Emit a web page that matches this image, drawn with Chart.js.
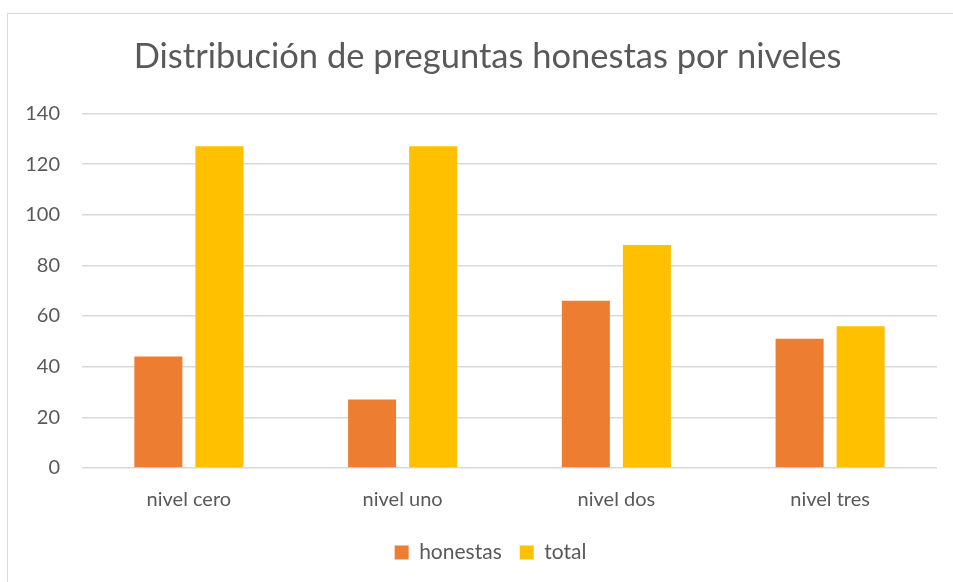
<!DOCTYPE html>
<html>
<head>
<meta charset="utf-8">
<script src="https://cdn.jsdelivr.net/npm/chart.js@4"></script>
<style>
  html, body { margin: 0; padding: 0; background: #ffffff; }
  #wrap { position: relative; width: 953px; height: 582px; }
</style>
</head>
<body>
<div id="wrap"><canvas id="nivelesChart" width="953" height="582"></canvas></div>
<script>
'use strict';
let categories = ['nivel cero', 'nivel uno', 'nivel dos', 'nivel tres'];
let honestas = [44, 27, 66, 51];
let total = [127, 127, 88, 56];
let mycolors = ['#ed7d31', '#ffc000'];

Chart.defaults.font.family = "Lato, 'Open Sans', sans-serif";
Chart.defaults.color = '#595959';

// Frame around the chart like the Excel chart area
const framePlugin = {
    id: 'frame',
    beforeDraw(chart) {
        let ctx = chart.ctx;
        ctx.save();
        ctx.fillStyle = '#ffffff';
        ctx.fillRect(0, 0, chart.width, chart.height);
        ctx.strokeStyle = '#d9d9d9';
        ctx.lineWidth = 1;
        ctx.strokeRect(7.5, 13.5, chart.width + 20, chart.height + 20);
        ctx.restore();
    }
};

// Excel centres title and legend on the whole frame, nudge them a bit right
const shiftPlugin = {
    id: 'shift',
    afterUpdate(chart) {
        chart.titleBlock.left += 8;
        chart.titleBlock.right += 8;
        chart.legend.left += 11;
        chart.legend.right += 11;
        chart.legend.adjustHitBoxes();
    }
};

let ctx = document.getElementById('nivelesChart').getContext('2d');
let nivelesChart = new Chart(ctx, {
    type: 'bar',
    data: {
        labels: categories,
        datasets: [{
            label: 'honestas',
            data: honestas,
            backgroundColor: mycolors[0],
        }, {
            label: 'total',
            data: total,
            backgroundColor: mycolors[1],
        }]
    },
    options: {
        responsive: false,
        animation: false,
        categoryPercentage: 0.571,
        barPercentage: 0.787,
        layout: {
            padding: {left: 22, right: 16, top: 20, bottom: 9}
        },
        scales: {
            x: {
                grid: {display: false},
                border: {display: false},
                ticks: {
                    font: {size: 20},
                    padding: 12
                }
            },
            y: {
                min: 0,
                max: 140,
                ticks: {
                    stepSize: 20,
                    font: {size: 20},
                    padding: 22
                },
                grid: {
                    color: '#d9d9d9',
                    lineWidth: 1.5,
                    drawTicks: false
                },
                border: {display: false},
                afterFit: scale => { scale.width = 60; }
            }
        },
        plugins: {
            title: {
                display: true,
                text: 'Distribución de preguntas honestas por niveles',
                font: {size: 34.5, weight: 'normal'},
                padding: {top: 16, bottom: 36}
            },
            legend: {
                position: 'bottom',
                labels: {
                    boxWidth: 14,
                    boxHeight: 14,
                    padding: 18,
                    font: {size: 21}
                }
            },
            tooltip: {enabled: false}
        }
    },
    plugins: [framePlugin, shiftPlugin]
});
</script>
</body>
</html>
